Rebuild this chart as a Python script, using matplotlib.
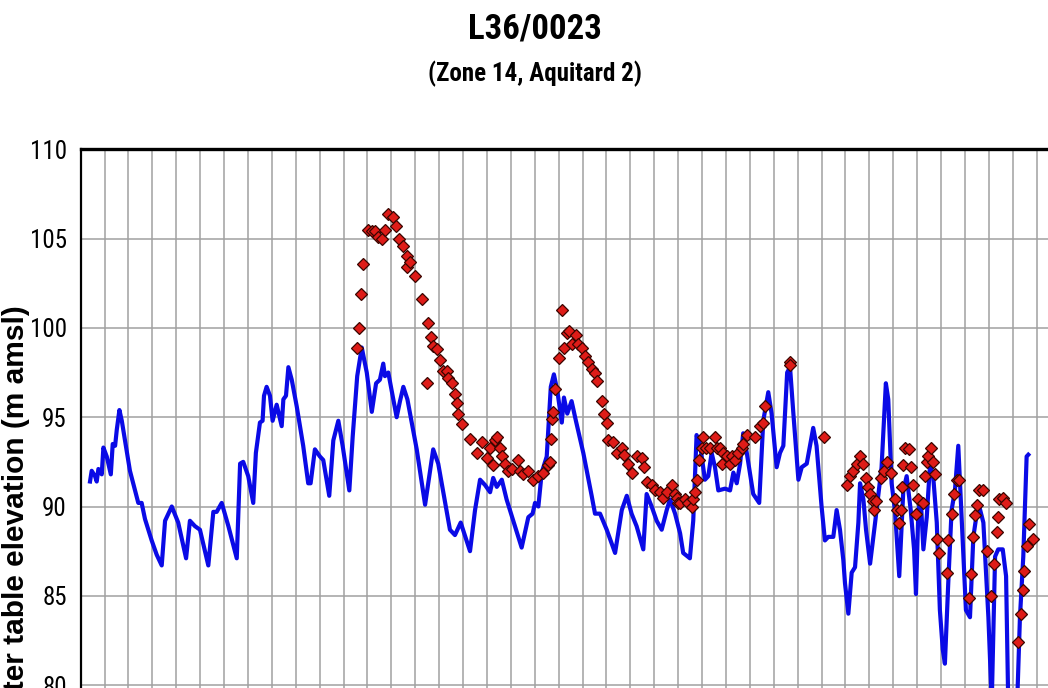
import numpy as np
import matplotlib
matplotlib.use("Agg")
from matplotlib import pyplot as plt
from matplotlib import font_manager
from matplotlib.ticker import MultipleLocator

# Modelled water table (blue line), decimal year / elevation (m amsl)
blue_year = [
    1966.39, 1966.46, 1966.60, 1966.67, 1966.74, 1966.88, 1966.95, 1967.09, 1967.26, 1967.34,
    1967.44, 1967.51, 1967.62, 1967.72, 1968.06, 1968.41, 1968.55, 1968.69, 1968.97, 1969.18,
    1969.39, 1969.53, 1969.81, 1970.08, 1970.41, 1970.57, 1970.78, 1970.99, 1971.34, 1971.55,
    1971.69, 1971.90, 1972.18, 1972.53, 1972.67, 1972.80, 1973.01, 1973.22, 1973.33, 1973.50,
    1973.61, 1973.67, 1973.78, 1973.92, 1974.03, 1974.20, 1974.41, 1974.48, 1974.59, 1974.69,
    1974.83, 1975.04, 1975.31, 1975.52, 1975.62, 1975.80, 1976.01, 1976.15, 1976.40, 1976.57,
    1976.78, 1976.96, 1977.24, 1977.38, 1977.57, 1977.76, 1977.97, 1978.18, 1978.36, 1978.52,
    1978.66, 1978.73, 1978.87, 1979.05, 1979.22, 1979.36, 1979.50, 1979.67, 1980.06, 1980.41,
    1980.75, 1980.96, 1981.45, 1981.66, 1981.90, 1982.29, 1982.50, 1982.71, 1982.92, 1983.13,
    1983.26, 1983.41, 1983.62, 1983.82, 1984.10, 1984.45, 1984.73, 1984.91, 1985.01, 1985.15,
    1985.29, 1985.50, 1985.67, 1985.80, 1985.94, 1986.13, 1986.22, 1986.36, 1986.54, 1986.72,
    1987.03, 1987.38, 1987.52, 1987.73, 1988.01, 1988.36, 1988.64, 1988.85, 1989.05, 1989.26,
    1989.54, 1989.68, 1989.89, 1990.10, 1990.31, 1990.52, 1990.66, 1990.87, 1991.08, 1991.21,
    1991.49, 1991.63, 1991.77, 1991.91, 1992.12, 1992.26, 1992.40, 1992.54, 1992.68, 1992.96,
    1993.17, 1993.31, 1993.45, 1993.59, 1993.72, 1993.87, 1994.14, 1994.39, 1994.56, 1994.77,
    1994.91, 1995.12, 1995.26, 1995.40, 1995.56, 1995.68, 1995.82, 1996.03, 1996.17, 1996.38,
    1996.65, 1996.79, 1997.00, 1997.14, 1997.28, 1997.49, 1997.63, 1997.77, 1997.91, 1997.98,
    1998.12, 1998.26, 1998.40, 1998.54, 1998.61, 1998.75, 1998.86, 1999.03, 1999.24, 1999.51,
    1999.69, 1999.79, 1999.93, 2000.07, 2000.25, 2000.42, 2000.56, 2000.73, 2000.87, 2000.95,
    2001.05, 2001.15, 2001.26, 2001.40, 2001.54, 2001.67, 2001.82, 2001.95, 2002.07, 2002.16,
    2002.30, 2002.44, 2002.58, 2002.72, 2002.86, 2003.04, 2003.21, 2003.35, 2003.56, 2003.77,
    2003.98, 2004.12, 2004.26, 2004.39, 2004.58, 2004.72, 2004.81, 2004.97, 2005.16, 2005.30,
    2005.44, 2005.58, 2005.65,
]
blue_level = [
    91.4, 92.0, 91.7, 91.4, 92.1, 91.8, 93.3, 92.8, 91.8, 93.5,
    93.4, 94.3, 95.4, 94.8, 92.0, 90.2, 90.2, 89.3, 88.1, 87.3,
    86.7, 89.2, 90.0, 89.1, 87.1, 89.2, 88.9, 88.7, 86.7, 89.7,
    89.7, 90.2, 88.9, 87.1, 92.4, 92.5, 91.7, 90.2, 93.0, 94.7,
    94.8, 96.2, 96.7, 96.2, 94.8, 95.7, 94.5, 96.0, 96.2, 97.8,
    97.1, 95.6, 93.4, 91.3, 91.3, 93.2, 92.8, 92.6, 90.6, 93.7,
    94.8, 93.4, 90.9, 93.9, 97.3, 98.9, 97.5, 95.3, 96.9, 97.1,
    98.0, 97.3, 97.5, 96.2, 95.0, 95.9, 96.7, 96.0, 93.2, 90.1,
    93.2, 92.4, 88.7, 88.4, 89.1, 87.5, 89.8, 91.5, 91.2, 90.8,
    91.6, 91.1, 91.5, 90.4, 89.2, 87.7, 89.4, 89.6, 90.2, 90.0,
    91.9, 92.8, 96.7, 97.4, 96.5, 94.7, 96.1, 95.2, 95.9, 94.8,
    93.0, 90.6, 89.6, 89.6, 88.7, 87.4, 89.8, 90.6, 89.6, 88.9,
    87.6, 90.7, 90.0, 89.2, 88.7, 89.8, 90.4, 89.6, 88.5, 87.4,
    87.1, 89.2, 94.0, 93.5, 91.5, 91.7, 93.0, 92.2, 90.9, 91.0,
    90.9, 91.9, 91.3, 92.4, 94.1, 93.0, 90.7, 90.2, 94.8, 96.4,
    95.2, 92.2, 93.0, 93.4, 97.5, 97.8, 95.2, 91.5, 92.2, 92.4,
    94.4, 93.4, 90.0, 88.1, 88.3, 88.3, 89.8, 88.7, 87.0, 85.7,
    84.0, 86.3, 86.6, 89.1, 91.3, 90.4, 88.7, 86.8, 89.1, 92.2,
    96.9, 96.0, 91.3, 89.8, 86.1, 90.9, 91.7, 89.8, 87.6, 85.1,
    89.8, 90.4, 87.6, 89.4, 92.4, 91.7, 89.1, 84.2, 82.0, 81.2,
    85.7, 89.8, 90.9, 93.4, 89.4, 84.2, 83.8, 88.3, 90.2, 89.1,
    83.8, 79.0, 87.2, 87.6, 87.6, 86.1, 79.0, 77.5, 78.0, 83.8,
    87.2, 92.8, 92.9,
]

# Observed water levels (red diamonds)
obs_year = [
    1977.55, 1977.64, 1977.73, 1977.82, 1978.03, 1978.18, 1978.31, 1978.43, 1978.59, 1978.73,
    1978.87, 1979.05, 1979.19, 1979.33, 1979.47, 1979.64, 1979.66, 1979.78, 1979.99, 1980.27,
    1980.48, 1980.54, 1980.64, 1980.75, 1980.90, 1981.03, 1981.17, 1981.31, 1981.38, 1981.52,
    1981.66, 1981.73, 1981.80, 1981.97, 1982.29, 1982.57, 1982.78, 1982.99, 1983.13, 1983.24,
    1983.33, 1983.43, 1983.54, 1983.62, 1983.75, 1983.89, 1984.03, 1984.31, 1984.38, 1984.52,
    1984.73, 1984.94, 1985.15, 1985.36, 1985.56, 1985.64, 1985.66, 1985.71, 1985.77, 1985.85,
    1986.03, 1986.13, 1986.22, 1986.33, 1986.44, 1986.54, 1986.72, 1986.82, 1986.96, 1987.10,
    1987.24, 1987.38, 1987.52, 1987.62, 1987.80, 1987.90, 1988.01, 1988.08, 1988.28, 1988.43,
    1988.64, 1988.73, 1988.91, 1989.05, 1989.26, 1989.47, 1989.57, 1989.68, 1989.89, 1990.03,
    1990.24, 1990.38, 1990.52, 1990.73, 1990.87, 1990.94, 1991.00, 1991.08, 1991.28, 1991.42,
    1991.56, 1991.63, 1991.70, 1991.80, 1991.88, 1991.98, 1992.05, 1992.16, 1992.33, 1992.54,
    1992.61, 1992.75, 1992.82, 1992.89, 1993.03, 1993.17, 1993.24, 1993.38, 1993.51, 1993.66,
    1993.72, 1993.87, 1994.21, 1994.42, 1994.54, 1994.63, 1995.66, 1995.68, 1997.10, 1998.05,
    1998.19, 1998.33, 1998.47, 1998.61, 1998.75, 1998.86, 1998.95, 1999.03, 1999.14, 1999.19,
    1999.27, 1999.47, 1999.61, 1999.72, 1999.89, 2000.07, 2000.17, 2000.25, 2000.31, 2000.35,
    2000.39, 2000.49, 2000.67, 2000.73, 2000.81, 2000.95, 2001.05, 2001.23, 2001.33, 2001.40,
    2001.46, 2001.56, 2001.65, 2001.74, 2001.82, 2001.91, 2002.23, 2002.30, 2002.44, 2002.55,
    2002.68, 2002.75, 2003.17, 2003.24, 2003.35, 2003.42, 2003.49, 2003.60, 2003.77, 2003.91,
    2004.08, 2004.23, 2004.35, 2004.39, 2004.43, 2004.58, 2004.72, 2005.23, 2005.33, 2005.41,
    2005.48, 2005.58, 2005.67, 2005.83,
]
obs_level = [
    98.9, 100.0, 101.9, 103.6, 105.5, 105.4, 105.4, 105.1, 105.0, 105.5,
    106.4, 106.2, 105.7, 105.0, 104.6, 104.0, 103.4, 103.7, 102.9, 101.6,
    96.9, 100.3, 99.5, 99.0, 98.8, 98.2, 97.6, 97.6, 97.2, 96.9,
    96.3, 95.8, 95.2, 94.6, 93.8, 93.0, 93.6, 92.7, 93.3, 92.3,
    93.7, 93.9, 93.3, 92.8, 92.4, 92.0, 92.1, 92.6, 92.0, 91.8,
    92.0, 91.5, 91.7, 91.9, 92.3, 92.5, 93.8, 94.9, 95.3, 96.6,
    98.3, 101.0, 98.9, 99.7, 99.8, 99.1, 99.6, 99.1, 98.9, 98.4,
    98.1, 97.7, 97.5, 97.0, 95.9, 95.2, 94.7, 93.7, 93.6, 93.0,
    93.3, 92.9, 92.4, 91.9, 92.8, 92.7, 92.2, 91.4, 91.2, 90.9,
    90.8, 90.5, 90.8, 91.2, 90.7, 90.5, 90.2, 90.2, 90.4, 90.2,
    90.0, 90.4, 90.8, 91.5, 92.6, 93.3, 93.9, 93.3, 93.3, 93.9,
    93.3, 93.3, 92.4, 93.0, 92.8, 92.4, 92.8, 92.6, 93.0, 93.3,
    93.5, 94.0, 93.9, 94.5, 94.7, 95.6, 98.1, 97.9, 93.9, 91.2,
    91.7, 92.0, 92.4, 92.8, 92.4, 91.6, 91.1, 90.7, 90.3, 89.8,
    90.3, 91.6, 92.0, 92.5, 91.9, 90.4, 89.8, 89.1, 89.8, 91.1,
    92.3, 93.3, 93.2, 92.2, 91.2, 89.6, 90.4, 90.2, 91.7, 92.5,
    92.8, 93.3, 92.5, 91.8, 88.2, 87.4, 86.3, 88.1, 89.6, 90.7,
    91.5, 91.5, 84.9, 86.2, 88.3, 89.5, 90.1, 90.9, 90.9, 87.5,
    85.0, 86.8, 88.6, 89.4, 90.4, 90.5, 90.2, 82.4, 84.0, 85.3,
    86.4, 87.8, 89.0, 88.2,
]

x_range = (1966, 2008)
y_range = (70, 110)


def narrow_font():
    """Return (family, stretch) for the narrowest sans font on this machine."""
    fonts = font_manager.fontManager.ttflist
    names = {f.name for f in fonts}
    for want in ["Liberation Sans Narrow", "Arial Narrow", "Roboto Condensed",
                 "Open Sans Condensed", "DejaVu Sans Condensed"]:
        if want in names:
            return want, "normal"
    for fam in ["Roboto", "Open Sans", "Noto Sans", "DejaVu Sans"]:
        for f in fonts:
            if f.name == fam and str(f.stretch) in ("condensed", "semi-condensed",
                                                    "extra-condensed"):
                return fam, str(f.stretch)
    return "Liberation Sans", "normal"


narrow_family, narrow_stretch = narrow_font()

fig = plt.figure(figsize=(10.48, 6.88), dpi=100)
fig.patch.set_facecolor("white")

# axes run past the right and bottom edges of the canvas
ax = fig.add_axes([0.0770, -0.2554, 0.9578, 1.0384])
ax.set_xlim(*x_range)
ax.set_ylim(*y_range)

ax.xaxis.set_major_locator(MultipleLocator(1))
ax.yaxis.set_major_locator(MultipleLocator(5))
ax.grid(True, color="#a0a0a0", linewidth=1.1)
ax.set_axisbelow(True)
ax.tick_params(axis="both", length=0)
ax.tick_params(axis="y", pad=10, labelsize=18)
ax.tick_params(axis="x", labelbottom=False)
for lab in ax.get_yticklabels():
    lab.set_family(narrow_family)
    lab.set_stretch(narrow_stretch)

ax.spines["top"].set_linewidth(2.4)
ax.spines["left"].set_linewidth(1.6)

ax.plot(blue_year, blue_level, color="#0a0ae6", linewidth=3.0, zorder=3,
        solid_joinstyle="round")
ax.plot(obs_year, obs_level, linestyle="none", marker="D", markersize=6.6,
        markerfacecolor="#de1c18", markeredgecolor="#3a0500", markeredgewidth=0.9,
        zorder=4)

fig.text(535 / 1048, 1 - 29 / 688, "L36/0023", ha="center", va="center",
         fontsize=25, fontweight="bold", family=narrow_family,
         fontstretch=narrow_stretch)
fig.text(535 / 1048, 1 - 74 / 688, "(Zone 14, Aquitard 2)", ha="center",
         va="center", fontsize=18, fontweight="bold", family=narrow_family,
         fontstretch=narrow_stretch)

fig.text(16 / 1048, 1 - 305 / 688, "Water table elevation (m amsl)",
         rotation=90, ha="center", va="top", fontsize=21.5, fontweight="bold",
         family=["Liberation Sans", "DejaVu Sans"])

fig.savefig("out.png", dpi=100, facecolor="white")
